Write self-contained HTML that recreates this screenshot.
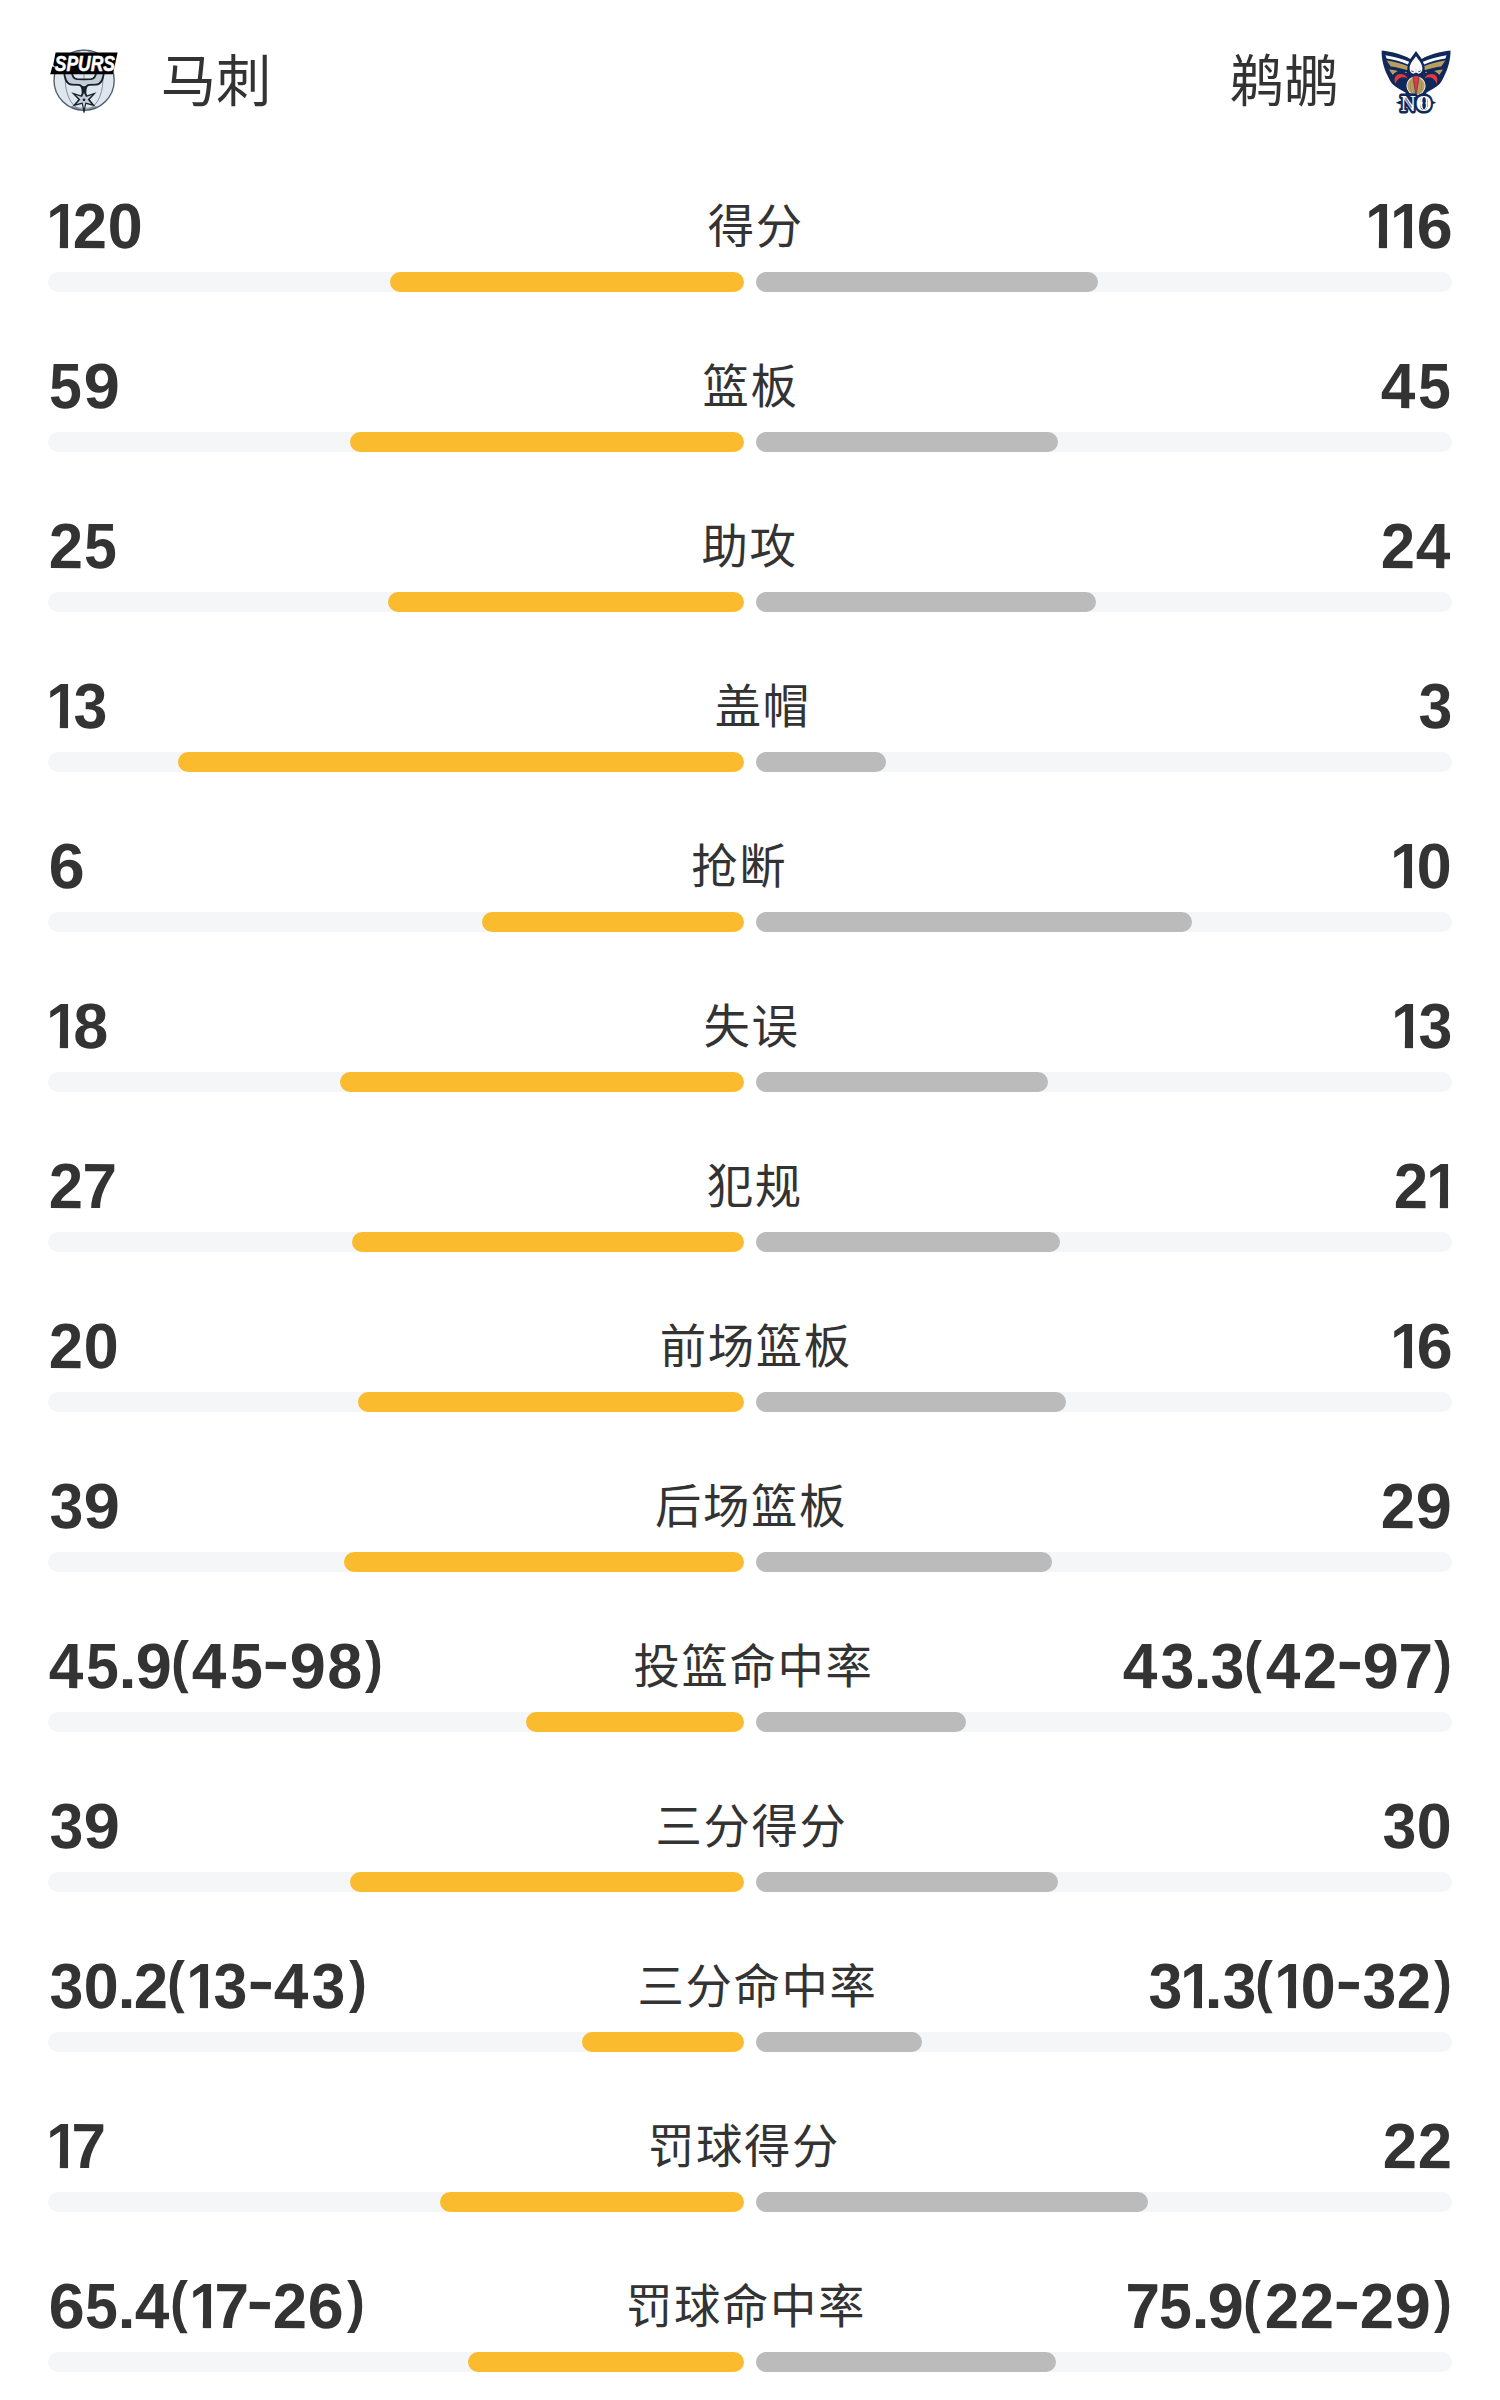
<!DOCTYPE html>
<html lang="zh-CN">
<head>
<meta charset="utf-8">
<title>马刺 vs 鹈鹕 技术统计</title>
<style>
html,body{margin:0;padding:0;background:#fff}
body{width:1500px;height:2400px;position:relative;overflow:hidden;color:#333;font-family:"Liberation Sans","Noto Sans CJK SC",sans-serif}
.hdr{position:absolute;left:0;top:0;width:1500px;height:160px}
.logo{position:absolute;top:44px;width:72px;height:72px}
.logo svg{display:block;width:72px;height:72px;overflow:visible}
.logo.a{left:48px}
.logo.b{left:1380px}
.team{position:absolute;top:42px;height:80px;line-height:80px;font-size:56px;font-weight:400;white-space:nowrap}
.team.a{left:160px;transform:scaleX(0.988);transform-origin:50% 50%}
.team.b{right:160px;transform:scaleX(0.974);transform-origin:50% 50%}
.stats{position:absolute;left:0;top:160px;width:1500px}
.row{position:relative;height:160px;width:1500px}
.vals{position:absolute;left:48px;right:48px;top:27px;height:76px;display:flex;justify-content:space-between;align-items:baseline}
.num{font-size:64px;font-weight:700;line-height:76px;white-space:nowrap;font-family:"Liberation Sans",sans-serif;position:relative;top:1px}
.lab{font-size:46.4px;letter-spacing:1.6px;margin-right:-1.6px;font-weight:400;line-height:76px;white-space:nowrap;position:relative;top:-3.6px}
.g{display:inline-block;font-style:normal;overflow:visible;white-space:pre}
.g1{clip-path:polygon(-3px 0,20.72px 0,20.72px 100%,11.9px 100%,11.9px 60%,-3px 60%)}
.g0{width:35.60px;text-indent:0.15px;transform-origin:17.90px 60.2px;transform:scaleX(0.986) rotate(0.3deg)}
.g1{width:24.10px;text-indent:-3.00px;transform-origin:11.05px 60.2px;transform:scaleX(0.936) rotate(0.3deg)}
.g2{width:35.00px;text-indent:-0.02px;transform-origin:17.60px 60.2px;transform:scaleX(0.961) rotate(0.3deg)}
.g3{width:35.40px;text-indent:0.52px;transform-origin:17.90px 60.2px;transform:scaleX(0.949) rotate(0.3deg)}
.g4{width:37.40px;text-indent:0.34px;transform-origin:18.45px 60.2px;transform:scaleX(0.971) rotate(0.3deg)}
.g5{width:34.70px;text-indent:-0.34px;transform-origin:17.55px 60.2px;transform:scaleX(0.920) rotate(0.3deg)}
.g6{width:36.40px;text-indent:0.69px;transform-origin:18.50px 60.2px;transform:scaleX(1.015) rotate(0.3deg)}
.g7{width:32.20px;text-indent:-1.37px;transform-origin:16.40px 60.2px;transform:scaleX(0.972) rotate(0.3deg)}
.g8{width:36.80px;text-indent:0.88px;transform-origin:18.70px 60.2px;transform:scaleX(0.981) rotate(0.3deg)}
.g9{width:37.00px;text-indent:0.88px;transform-origin:18.60px 60.2px;transform:scaleX(1.019) rotate(0.3deg)}
.gp{width:14.50px;text-indent:-1.36px;transform-origin:7.50px 60.2px;transform:scale(1.019,0.92) rotate(0.3deg)}
.gl{width:19.80px;text-indent:-3.12px;transform-origin:9.10px 60.2px;transform:translateY(-6.7px) scale(0.831,0.891) rotate(0.3deg)}
.gr{width:20.70px;text-indent:1.46px;transform-origin:10.55px 60.2px;transform:translateY(-6.7px) scale(0.836,0.891) rotate(0.3deg)}
.gh{width:25.20px;text-indent:2.18px;transform-origin:12.80px 60.2px;transform:translateY(-6.6px) scale(1.243,0.95) rotate(0.3deg)}
.bars{position:absolute;left:48px;top:112px;width:1404px;height:20px}
.trk{position:absolute;top:0;width:696px;height:20px;border-radius:10px;background:#f5f6f8}
.trk b{position:absolute;top:0;height:20px;border-radius:10px;display:block}
.tl{left:0}
.tr{left:708px}
.tl b{right:0;background:#fbbb2f}
.tr b{left:0;background:#bbb}
</style>
</head>
<body>
<div class="hdr">
<div class="logo a"><svg viewBox="0 0 72 72">
<circle cx="36.1" cy="36.2" r="31.2" fill="#eaf0f6"/>
<circle cx="36.1" cy="36.2" r="30.1" fill="#dfe6ee" stroke="#4d5b67" stroke-width="1.3"/>
<ellipse cx="36.1" cy="36.2" rx="18.8" ry="30" fill="none" stroke="#5c6a76" stroke-width="0.7"/>
<path d="M23.500 62.600 Q36 66.200 48.500 62.600" fill="none" stroke="#55636f" stroke-width="0.7"/>
<path d="M36 29 V35.500" fill="none" stroke="#7d8a96" stroke-width="0.9"/>
<path d="M16.100 27 C16.400 34 18 40.300 24 40.600 L30.500 40.900 C32.900 41 33.900 42.500 34.300 45 L34.800 51 H37.200 L37.700 45 C38.100 42.500 39.100 41 41.500 40.900 L48 40.600 C54 40.300 55.600 34 55.900 27 H48.300 C48 31.500 46.600 34.900 43 35.200 L36 35.400 L29 35.200 C25.400 34.900 24 31.500 23.700 27Z" fill="#c4ccd7" stroke="#13222d" stroke-width="1.8" stroke-linejoin="round"/>
<path d="M32.800 41.300 C34.800 42.500 37.200 42.500 39.200 41.300 L38 45 L37.400 53 H34.600 L34 45Z" fill="#13222d"/>
<path d="M36.00 45.00 L39.20 51.30 L48.50 48.20 L41.80 55.40 L47.50 62.50 L38.20 59.90 L36.00 69.60 L33.80 59.90 L24.20 62.50 L30.20 55.40 L23.20 48.20 L32.80 51.30Z" fill="#13222d"/>
<path d="M36.00 48.89 L38.05 52.92 L44.00 50.94 L39.71 55.54 L43.36 60.09 L37.41 58.42 L36.00 64.63 L34.59 58.42 L28.45 60.09 L32.29 55.54 L27.81 50.94 L33.95 52.92Z" fill="#c4ccd7"/>
<path d="M36 63 L37.100 65.500 L36 69.600 L34.900 65.500Z" fill="#13222d"/>
<circle cx="36" cy="55.800" r="1.350" fill="#13222d"/>
<path d="M7.600 8.400 H69.600 L64.900 30.200 H2.200 L4.400 22.400 L7.200 23 L5.200 21 Z" fill="#000"/>
<text x="6.800" y="26.800" font-family="'Liberation Sans',sans-serif" font-weight="700" font-style="italic" font-size="21.800" fill="#fff" stroke="#fff" stroke-width="0.600" stroke-linejoin="round" textLength="60.200" lengthAdjust="spacingAndGlyphs">SPURS</text>
</svg>
</div>
<div class="team a">马刺</div>
<div class="team b">鹈鹕</div>
<div class="logo b"><svg viewBox="0 0 72 72">
<path d="M1.700 6.500 C12 7.600 23 10.600 30.200 14.900 L36 6.900 L41.800 14.900 C49 10.600 60 7.600 70.500 6.500 C70.700 14 68.500 24 64 32.600 C62.600 35.600 61.200 38.200 59.600 40 C56 43.400 50.500 46.200 46.300 48.800 L46.300 53 H25.700 L25.700 48.800 C21.500 46.200 16 43.400 12.400 40 C10.800 38.200 9.400 35.600 8 32.600 C3.500 24 1.300 14 1.700 6.500Z" fill="#10295a"/>
<path d="M5.500 11.200 C14 12.500 22.500 14.800 29.100 17.700 L27.900 20.400 C21.500 17.800 14 15.800 6.600 14.600Z" fill="#fff"/>
<path d="M66.500 11.200 C58 12.500 49.500 14.800 42.900 17.700 L44.100 20.400 C50.500 17.800 58 15.800 65.400 14.600Z" fill="#fff"/>
<path d="M6.600 16.500 C14 17.700 21.500 19.500 27.600 22 L27.200 26.300 C22 24.500 16 23.100 10.800 22.500Z" fill="#b89f61"/>
<path d="M65.400 16.500 C58 17.700 50.500 19.500 44.400 22 L44.800 26.300 C50 24.500 56 23.100 61.200 22.500Z" fill="#b89f61"/>
<path d="M9 25.600 C12 25.700 15 26.100 18 26.900 C15.800 27.800 14 29.200 12.800 30.900Z" fill="#b89f61"/>
<path d="M63 25.600 C60 25.700 57 26.100 54 26.900 C56.200 27.800 58 29.200 59.200 30.900Z" fill="#b89f61"/>
<path d="M24.800 27.800 L27.200 28.200 L25.600 29.200Z" fill="#b89f61"/>
<path d="M47.200 27.800 L44.800 28.200 L46.400 29.200Z" fill="#b89f61"/>
<path d="M15.400 39.800 C12.800 33 16.800 29.700 21 30.100 C24.600 30.400 26.800 32.300 27.600 34.700 C25 32.900 22 32.800 19.900 34 C17.500 35.400 16.300 37.600 15.400 39.800Z" fill="#e0393e"/>
<path d="M56.600 39.800 C59.200 33 55.200 29.700 51 30.100 C47.400 30.400 45.200 32.300 44.400 34.700 C47 32.900 50 32.800 52.100 34 C54.500 35.400 55.700 37.600 56.600 39.800Z" fill="#e0393e"/>
<circle cx="36" cy="41.800" r="9.600" fill="#f4f5f8"/>
<circle cx="36" cy="41.800" r="8.700" fill="#b89f61"/>
<path d="M31.200 36.500 C29.800 40.500 30.200 45.500 32.400 49.500 M40.800 36.500 C42.200 40.500 41.800 45.500 39.600 49.500" fill="none" stroke="#9c8447" stroke-width="0.800"/>
<path d="M33 38 C32.200 41.500 32.600 45.500 34 49 M39 38 C39.800 41.500 39.400 45.500 38 49" fill="none" stroke="#a99058" stroke-width="0.600"/>
<path d="M36 12.200 C38.800 16 42.400 20 42.400 24.200 C42.400 27.500 40.900 29 38.900 29.800 L36 30.600 L33.100 29.800 C31.100 29 29.600 27.500 29.600 24.200 C29.600 20 33.200 16 36 12.200Z" fill="#fff"/>
<path d="M33.400 29.700 L36 28.600 L38.600 29.700 L37.400 31.200 H34.600Z" fill="#10295a"/>
<path d="M31.200 26.200 L34 27.700 L33.400 28.300 L31.400 27.200Z M40.800 26.200 L38 27.700 L38.600 28.300 L40.600 27.200Z" fill="#10295a"/>
<path d="M31.800 26.900 L33.500 27.900 L32 28.100Z M40.200 26.900 L38.500 27.900 L40 28.100Z" fill="#d8383d"/>
<path d="M35.550 24.400 H36.450 V28.200 H35.550Z" fill="#c5cad6"/>
<path d="M32.700 32.500 L36 31.500 L39.300 32.500 L36.350 49.800 H35.650Z" fill="#e0393e" stroke="#10295a" stroke-width="0.500"/>
<path d="M15.800 58.700 L19.500 57.100 H23 V60.300 H19.500Z M56.200 58.700 L52.500 57.100 H49 V60.300 H52.500Z" fill="#10295a"/>
<text x="20.800" y="67.300" font-family="'Liberation Serif',serif" font-weight="700" font-size="23.800" fill="#fff" stroke="#10295a" stroke-width="5" stroke-linejoin="round" paint-order="stroke" textLength="30.900" lengthAdjust="spacingAndGlyphs">NO</text>
<ellipse cx="44.100" cy="59.100" rx="4.100" ry="6.700" fill="#fff"/>
<path d="M44.100 53.100 C45.600 53.100 45.900 56 45.900 57.200 C45.900 58.200 45.500 58.700 45.100 59.100 C45.500 59.500 45.900 60 45.900 61 C45.900 62.200 45.600 65.100 44.100 65.100 C42.600 65.100 42.300 62.200 42.300 61 C42.300 60 42.700 59.500 43.100 59.100 C42.700 58.700 42.300 58.200 42.300 57.200 C42.300 56 42.600 53.100 44.100 53.100Z" fill="#10295a"/>
<path d="M47.400 55.400 V63" fill="none" stroke="#10295a" stroke-width="0.500" opacity="0.750"/>
<path d="M25.300 54 L31.500 63.500" fill="none" stroke="#10295a" stroke-width="1.500" opacity="0.550"/>
</svg>
</div>
</div>
<div class="stats">
<div class="row">
<div class="vals"><div class="num" aria-label="120"><i class="g g1">1</i><i class="g g2">2</i><i class="g g0">0</i></div><div class="lab">得分</div><div class="num" aria-label="116"><i class="g g1">1</i><i class="g g1">1</i><i class="g g6">6</i></div></div>
<div class="bars"><div class="trk tl"><b style="width:354px"></b></div><div class="trk tr"><b style="width:342px"></b></div></div>
</div>
<div class="row">
<div class="vals"><div class="num" aria-label="59"><i class="g g5">5</i><i class="g g9">9</i></div><div class="lab">篮板</div><div class="num" aria-label="45"><i class="g g4">4</i><i class="g g5">5</i></div></div>
<div class="bars"><div class="trk tl"><b style="width:394px"></b></div><div class="trk tr"><b style="width:302px"></b></div></div>
</div>
<div class="row">
<div class="vals"><div class="num" aria-label="25"><i class="g g2">2</i><i class="g g5">5</i></div><div class="lab">助攻</div><div class="num" aria-label="24"><i class="g g2">2</i><i class="g g4">4</i></div></div>
<div class="bars"><div class="trk tl"><b style="width:356px"></b></div><div class="trk tr"><b style="width:340px"></b></div></div>
</div>
<div class="row">
<div class="vals"><div class="num" aria-label="13"><i class="g g1">1</i><i class="g g3">3</i></div><div class="lab">盖帽</div><div class="num" aria-label="3"><i class="g g3">3</i></div></div>
<div class="bars"><div class="trk tl"><b style="width:566px"></b></div><div class="trk tr"><b style="width:130px"></b></div></div>
</div>
<div class="row">
<div class="vals"><div class="num" aria-label="6"><i class="g g6">6</i></div><div class="lab">抢断</div><div class="num" aria-label="10"><i class="g g1">1</i><i class="g g0">0</i></div></div>
<div class="bars"><div class="trk tl"><b style="width:262px"></b></div><div class="trk tr"><b style="width:436px"></b></div></div>
</div>
<div class="row">
<div class="vals"><div class="num" aria-label="18"><i class="g g1">1</i><i class="g g8">8</i></div><div class="lab">失误</div><div class="num" aria-label="13"><i class="g g1">1</i><i class="g g3">3</i></div></div>
<div class="bars"><div class="trk tl"><b style="width:404px"></b></div><div class="trk tr"><b style="width:292px"></b></div></div>
</div>
<div class="row">
<div class="vals"><div class="num" aria-label="27"><i class="g g2">2</i><i class="g g7">7</i></div><div class="lab">犯规</div><div class="num" aria-label="21"><i class="g g2">2</i><i class="g g1">1</i></div></div>
<div class="bars"><div class="trk tl"><b style="width:392px"></b></div><div class="trk tr"><b style="width:304px"></b></div></div>
</div>
<div class="row">
<div class="vals"><div class="num" aria-label="20"><i class="g g2">2</i><i class="g g0">0</i></div><div class="lab">前场篮板</div><div class="num" aria-label="16"><i class="g g1">1</i><i class="g g6">6</i></div></div>
<div class="bars"><div class="trk tl"><b style="width:386px"></b></div><div class="trk tr"><b style="width:310px"></b></div></div>
</div>
<div class="row">
<div class="vals"><div class="num" aria-label="39"><i class="g g3">3</i><i class="g g9">9</i></div><div class="lab">后场篮板</div><div class="num" aria-label="29"><i class="g g2">2</i><i class="g g9">9</i></div></div>
<div class="bars"><div class="trk tl"><b style="width:400px"></b></div><div class="trk tr"><b style="width:296px"></b></div></div>
</div>
<div class="row">
<div class="vals"><div class="num" aria-label="45.9(45-98)"><i class="g g4">4</i><i class="g g5">5</i><i class="g gp">.</i><i class="g g9">9</i><i class="g gl">(</i><i class="g g4">4</i><i class="g g5">5</i><i class="g gh">-</i><i class="g g9">9</i><i class="g g8">8</i><i class="g gr">)</i></div><div class="lab">投篮命中率</div><div class="num" aria-label="43.3(42-97)"><i class="g g4">4</i><i class="g g3">3</i><i class="g gp">.</i><i class="g g3">3</i><i class="g gl">(</i><i class="g g4">4</i><i class="g g2">2</i><i class="g gh">-</i><i class="g g9">9</i><i class="g g7">7</i><i class="g gr">)</i></div></div>
<div class="bars"><div class="trk tl"><b style="width:218px"></b></div><div class="trk tr"><b style="width:210px"></b></div></div>
</div>
<div class="row">
<div class="vals"><div class="num" aria-label="39"><i class="g g3">3</i><i class="g g9">9</i></div><div class="lab">三分得分</div><div class="num" aria-label="30"><i class="g g3">3</i><i class="g g0">0</i></div></div>
<div class="bars"><div class="trk tl"><b style="width:394px"></b></div><div class="trk tr"><b style="width:302px"></b></div></div>
</div>
<div class="row">
<div class="vals"><div class="num" aria-label="30.2(13-43)"><i class="g g3">3</i><i class="g g0">0</i><i class="g gp">.</i><i class="g g2">2</i><i class="g gl">(</i><i class="g g1">1</i><i class="g g3">3</i><i class="g gh">-</i><i class="g g4">4</i><i class="g g3">3</i><i class="g gr">)</i></div><div class="lab">三分命中率</div><div class="num" aria-label="31.3(10-32)"><i class="g g3">3</i><i class="g g1">1</i><i class="g gp">.</i><i class="g g3">3</i><i class="g gl">(</i><i class="g g1">1</i><i class="g g0">0</i><i class="g gh">-</i><i class="g g3">3</i><i class="g g2">2</i><i class="g gr">)</i></div></div>
<div class="bars"><div class="trk tl"><b style="width:162px"></b></div><div class="trk tr"><b style="width:166px"></b></div></div>
</div>
<div class="row">
<div class="vals"><div class="num" aria-label="17"><i class="g g1">1</i><i class="g g7">7</i></div><div class="lab">罚球得分</div><div class="num" aria-label="22"><i class="g g2">2</i><i class="g g2">2</i></div></div>
<div class="bars"><div class="trk tl"><b style="width:304px"></b></div><div class="trk tr"><b style="width:392px"></b></div></div>
</div>
<div class="row">
<div class="vals"><div class="num" aria-label="65.4(17-26)"><i class="g g6">6</i><i class="g g5">5</i><i class="g gp">.</i><i class="g g4">4</i><i class="g gl">(</i><i class="g g1">1</i><i class="g g7">7</i><i class="g gh">-</i><i class="g g2">2</i><i class="g g6">6</i><i class="g gr">)</i></div><div class="lab">罚球命中率</div><div class="num" aria-label="75.9(22-29)"><i class="g g7">7</i><i class="g g5">5</i><i class="g gp">.</i><i class="g g9">9</i><i class="g gl">(</i><i class="g g2">2</i><i class="g g2">2</i><i class="g gh">-</i><i class="g g2">2</i><i class="g g9">9</i><i class="g gr">)</i></div></div>
<div class="bars"><div class="trk tl"><b style="width:276px"></b></div><div class="trk tr"><b style="width:300px"></b></div></div>
</div>
</div>
</body>
</html>
